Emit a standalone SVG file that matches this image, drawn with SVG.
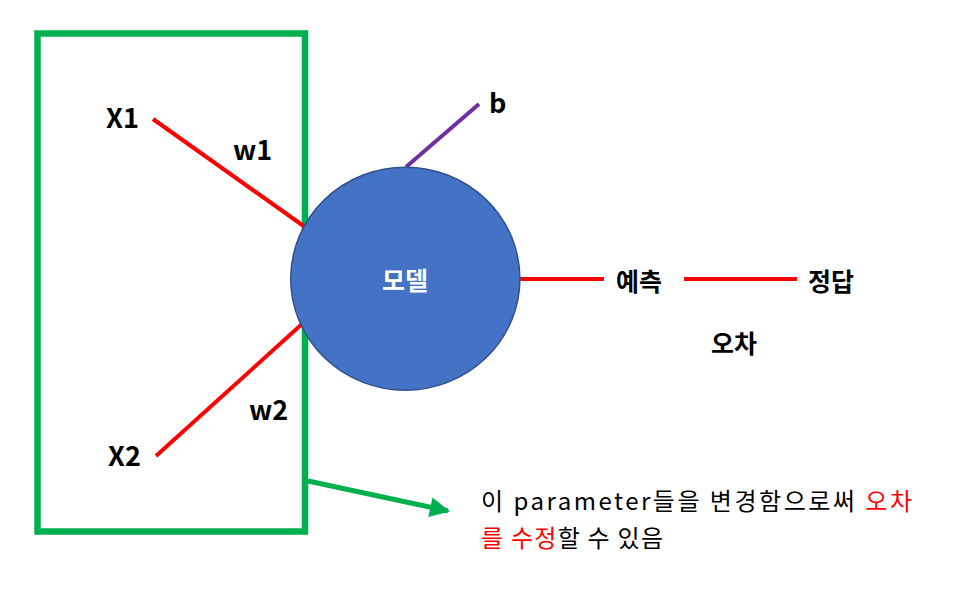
<svg xmlns="http://www.w3.org/2000/svg" width="956" height="599" viewBox="0 0 956 599">
<defs>
<style>
.lbl{font-family:"Noto Sans CJK KR","Liberation Sans",sans-serif;font-weight:bold;fill:#000;}
.body{font-family:"Noto Sans CJK KR","Liberation Sans",sans-serif;font-size:24px;fill:#000;}
.red{fill:#FF0000;}
.rl{stroke:#FF0000;stroke-width:4;fill:none;}
</style>
<marker id="ga" viewBox="0 0 10 10" refX="9" refY="5" markerWidth="4.4" markerHeight="4" markerUnits="strokeWidth" orient="auto">
<path d="M0,0 L10,5 L0,10 Z" fill="#00B050"/>
</marker>
</defs>
<rect width="956" height="599" fill="#fff"/>
<g id="box">
<rect x="37.5" y="33.5" width="267.5" height="498" fill="none" stroke="#00B050" stroke-width="6.5"/>
</g>
<g id="connectors">
<line class="rl" x1="153" y1="119" x2="305" y2="227"/>
<line class="rl" x1="156" y1="456" x2="302" y2="324"/>
<line x1="406" y1="167" x2="479" y2="104" stroke="#7030A0" stroke-width="4"/>
<line class="rl" x1="520" y1="279" x2="604" y2="279"/>
<line class="rl" x1="684" y1="279" x2="797" y2="279"/>
<line x1="308" y1="481" x2="448" y2="511" stroke="#00B050" stroke-width="5" marker-end="url(#ga)"/>
</g>
<g id="model">
<ellipse cx="405.3" cy="278.7" rx="114.6" ry="111.5" fill="#4472C4" stroke="#2F528F" stroke-width="1.5"/>
<text class="lbl" x="405" y="290" font-size="25" style="fill:#fff" text-anchor="middle">모델</text>
</g>
<g id="x1"><text class="lbl" x="106" y="128" font-size="27">X1</text></g>
<g id="w1"><text class="lbl" x="233" y="160" font-size="27">w1</text></g>
<g id="x2"><text class="lbl" x="108" y="466" font-size="27">X2</text></g>
<g id="w2"><text class="lbl" x="249" y="420" font-size="27">w2</text></g>
<g id="b"><text class="lbl" x="489" y="113" font-size="27">b</text></g>
<g id="pred"><text class="lbl" x="616" y="291" font-size="25">예측</text></g>
<g id="answer"><text class="lbl" x="808" y="291" font-size="25">정답</text></g>
<g id="error"><text class="lbl" x="711" y="353" font-size="25">오차</text></g>
<g id="note">
<text class="body" x="481" y="510" textLength="431" lengthAdjust="spacing">이 parameter들을 변경함으로써 <tspan class="red">오차</tspan></text>
<text class="body" x="481" y="547" textLength="182" lengthAdjust="spacing"><tspan class="red">를 수정</tspan>할 수 있음</text>
</g>
</svg>
